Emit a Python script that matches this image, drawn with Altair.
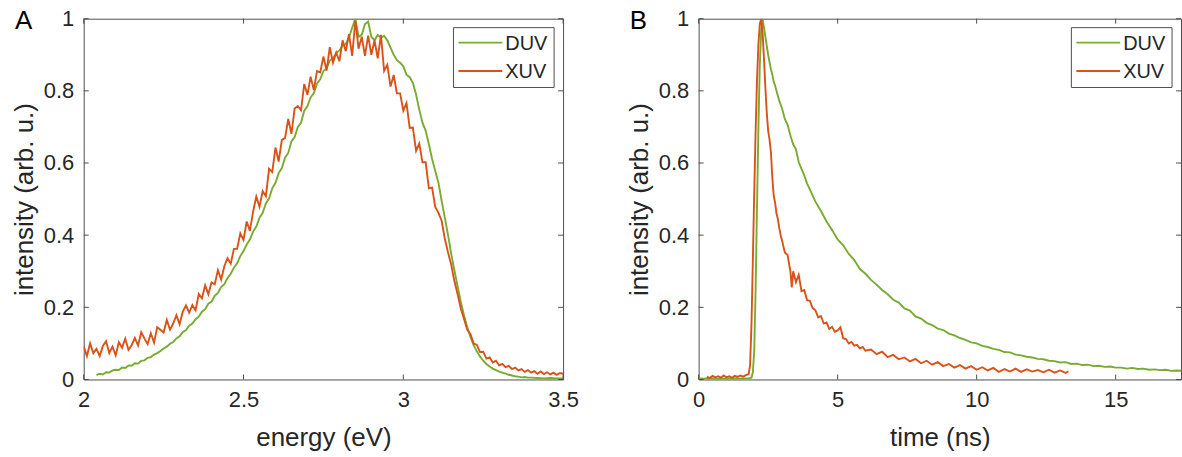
import altair as alt
import pandas as pd

SERIES = ["DUV", "XUV"]
COLORS = ["#77AC30", "#D95319"]
FONT = "Liberation Sans"
TEXT_GREY = "#262626"
FRAME = "#4d4d4d"
Y_TITLE = "intensity (arb. u.)"
PANEL_LETTERS = ["A", "B"]

# ---------------- Panel A : spectra ----------------
a_duv_energy = [2.04, 2.05, 2.06, 2.07, 2.08, 2.09, 2.10, 2.11, 2.12, 2.13, 2.14, 2.15, 2.16, 2.17, 2.18, 2.19,
                2.20, 2.21, 2.22, 2.23, 2.24, 2.25, 2.26, 2.27, 2.28, 2.29, 2.30, 2.31, 2.32, 2.33, 2.34, 2.35,
                2.36, 2.37, 2.38, 2.39, 2.40, 2.41, 2.42, 2.43, 2.44, 2.45, 2.46, 2.47, 2.48, 2.49, 2.50, 2.51,
                2.52, 2.53, 2.54, 2.55, 2.56, 2.57, 2.58, 2.59, 2.60, 2.61, 2.62, 2.63, 2.64, 2.65, 2.66, 2.67,
                2.68, 2.69, 2.70, 2.71, 2.72, 2.73, 2.74, 2.75, 2.76, 2.77, 2.78, 2.79, 2.80, 2.81, 2.82, 2.83,
                2.84, 2.85, 2.86, 2.87, 2.88, 2.89, 2.90, 2.91, 2.92, 2.93, 2.94, 2.95, 2.96, 2.97, 2.98, 2.99,
                3.00, 3.01, 3.02, 3.03, 3.04, 3.05, 3.06, 3.07, 3.08, 3.09, 3.10, 3.11, 3.12, 3.13, 3.14, 3.15,
                3.16, 3.17, 3.18, 3.19, 3.20, 3.21, 3.22, 3.23, 3.24, 3.25, 3.26, 3.27, 3.28, 3.29, 3.30, 3.31,
                3.32, 3.33, 3.34, 3.35, 3.36, 3.37, 3.38, 3.39, 3.40, 3.42, 3.44, 3.46, 3.48, 3.50]
a_duv_int = [0.012, 0.016, 0.014, 0.020, 0.019, 0.025, 0.027, 0.026, 0.033, 0.032, 0.039, 0.038, 0.045, 0.044,
             0.052, 0.053, 0.060, 0.062, 0.069, 0.073, 0.079, 0.086, 0.091, 0.099, 0.104, 0.114, 0.120, 0.131,
             0.137, 0.149, 0.155, 0.167, 0.174, 0.188, 0.195, 0.210, 0.216, 0.232, 0.240, 0.256, 0.264, 0.281,
             0.293, 0.310, 0.322, 0.342, 0.356, 0.374, 0.388, 0.410, 0.424, 0.448, 0.462, 0.488, 0.502, 0.530,
             0.545, 0.572, 0.586, 0.615, 0.628, 0.660, 0.672, 0.700, 0.712, 0.745, 0.758, 0.782, 0.794, 0.820,
             0.832, 0.855, 0.862, 0.884, 0.890, 0.905, 0.912, 0.925, 0.930, 0.948, 0.975, 1.000, 0.950, 0.955,
             0.985, 0.992, 0.950, 0.940, 0.955, 0.948, 0.952, 0.940, 0.920, 0.900, 0.885, 0.878, 0.868, 0.845,
             0.838, 0.822, 0.790, 0.748, 0.712, 0.690, 0.652, 0.612, 0.578, 0.545, 0.495, 0.448, 0.400, 0.348,
             0.302, 0.258, 0.215, 0.178, 0.145, 0.118, 0.095, 0.078, 0.064, 0.052, 0.043, 0.036, 0.030, 0.026,
             0.022, 0.019, 0.016, 0.013, 0.011, 0.009, 0.008, 0.006, 0.007, 0.005, 0.005, 0.004, 0.003, 0.004,
             0.003, 0.003]

a_xuv_energy = [2.00, 2.01, 2.02, 2.03, 2.04, 2.05, 2.06, 2.07, 2.08, 2.09, 2.10, 2.11, 2.12, 2.13, 2.14, 2.15,
                2.16, 2.17, 2.18, 2.19, 2.20, 2.21, 2.22, 2.23, 2.24, 2.25, 2.26, 2.27, 2.28, 2.29, 2.30, 2.31,
                2.32, 2.33, 2.34, 2.35, 2.36, 2.37, 2.38, 2.39, 2.40, 2.41, 2.42, 2.43, 2.44, 2.45, 2.46, 2.47,
                2.48, 2.49, 2.50, 2.51, 2.52, 2.53, 2.54, 2.55, 2.56, 2.57, 2.58, 2.59, 2.60, 2.61, 2.62, 2.63,
                2.64, 2.65, 2.66, 2.67, 2.68, 2.69, 2.70, 2.71, 2.72, 2.73, 2.74, 2.75, 2.76, 2.77, 2.78, 2.79,
                2.80, 2.81, 2.82, 2.83, 2.84, 2.85, 2.86, 2.87, 2.88, 2.89, 2.90, 2.91, 2.92, 2.93, 2.94, 2.95,
                2.96, 2.97, 2.98, 2.99, 3.00, 3.01, 3.02, 3.03, 3.04, 3.05, 3.06, 3.07, 3.08, 3.09, 3.10, 3.11,
                3.12, 3.13, 3.14, 3.15, 3.16, 3.17, 3.18, 3.19, 3.20, 3.21, 3.22, 3.23, 3.24, 3.25, 3.26, 3.27,
                3.28, 3.29, 3.30, 3.31, 3.32, 3.33, 3.34, 3.35, 3.36, 3.37, 3.38, 3.39, 3.40, 3.41, 3.42, 3.43,
                3.44, 3.45, 3.46, 3.47, 3.48, 3.49, 3.50]
a_xuv_int = [0.092, 0.065, 0.100, 0.073, 0.085, 0.065, 0.093, 0.106, 0.073, 0.091, 0.067, 0.103, 0.088, 0.113,
             0.082, 0.095, 0.115, 0.094, 0.131, 0.114, 0.098, 0.128, 0.102, 0.145, 0.138, 0.130, 0.165, 0.138,
             0.155, 0.178, 0.153, 0.188, 0.205, 0.185, 0.206, 0.192, 0.237, 0.225, 0.261, 0.236, 0.269, 0.264,
             0.303, 0.277, 0.314, 0.336, 0.321, 0.362, 0.362, 0.405, 0.387, 0.438, 0.412, 0.465, 0.507, 0.479,
             0.522, 0.508, 0.584, 0.575, 0.643, 0.604, 0.664, 0.669, 0.722, 0.681, 0.751, 0.758, 0.746, 0.819,
             0.789, 0.839, 0.802, 0.855, 0.851, 0.895, 0.856, 0.921, 0.878, 0.906, 0.882, 0.940, 0.910, 0.957,
             0.897, 0.995, 0.917, 0.950, 0.897, 0.953, 0.900, 0.940, 0.890, 0.955, 0.855, 0.872, 0.812, 0.844,
             0.793, 0.793, 0.745, 0.766, 0.697, 0.698, 0.634, 0.654, 0.602, 0.602, 0.530, 0.532, 0.478, 0.462,
             0.440, 0.390, 0.352, 0.318, 0.272, 0.236, 0.196, 0.168, 0.138, 0.126, 0.100, 0.096, 0.076, 0.077,
             0.058, 0.061, 0.047, 0.052, 0.039, 0.043, 0.034, 0.038, 0.029, 0.033, 0.025, 0.029, 0.021, 0.026,
             0.019, 0.023, 0.016, 0.022, 0.015, 0.020, 0.014, 0.019, 0.013, 0.018, 0.016]

# ---------------- Panel B : decays ----------------
b_duv_time = [0.00, 0.20, 0.40, 0.60, 0.80, 1.00, 1.20, 1.40, 1.60, 1.80, 1.90, 1.95, 2.00, 2.05, 2.10, 2.15,
              2.20, 2.25, 2.30, 2.35, 2.40, 2.45, 2.50, 2.55, 2.60, 2.65, 2.70, 2.75, 2.80, 2.90, 3.00, 3.10,
              3.20, 3.30, 3.40, 3.50, 3.60, 3.70, 3.80, 3.90, 4.00, 4.20, 4.40, 4.60, 4.80, 5.00, 5.20, 5.40,
              5.60, 5.80, 6.00, 6.20, 6.40, 6.60, 6.80, 7.00, 7.20, 7.40, 7.60, 7.80, 8.00, 8.20, 8.40, 8.60,
              8.80, 9.00, 9.20, 9.40, 9.60, 9.80, 10.00, 10.20, 10.40, 10.60, 10.80, 11.00, 11.20, 11.40, 11.60,
              11.80, 12.00, 12.20, 12.40, 12.60, 12.80, 13.00, 13.20, 13.40, 13.60, 13.80, 14.00, 14.20, 14.40,
              14.60, 14.80, 15.00, 15.20, 15.40, 15.60, 15.80, 16.00, 16.20, 16.40, 16.60, 16.80, 17.00, 17.20,
              17.35]
b_duv_int = [0.003, 0.002, 0.004, 0.002, 0.003, 0.002, 0.004, 0.002, 0.003, 0.003, 0.005, 0.020, 0.080, 0.250,
             0.480, 0.700, 0.870, 0.970, 1.000, 0.975, 0.950, 0.925, 0.900, 0.880, 0.860, 0.845, 0.825, 0.815,
             0.800, 0.772, 0.752, 0.722, 0.706, 0.676, 0.652, 0.638, 0.602, 0.584, 0.566, 0.543, 0.527, 0.493,
             0.467, 0.438, 0.414, 0.388, 0.372, 0.348, 0.331, 0.306, 0.293, 0.276, 0.263, 0.248, 0.236, 0.221,
             0.213, 0.197, 0.191, 0.175, 0.169, 0.157, 0.151, 0.141, 0.137, 0.127, 0.122, 0.115, 0.110, 0.103,
             0.100, 0.093, 0.090, 0.085, 0.082, 0.076, 0.075, 0.069, 0.067, 0.063, 0.061, 0.057, 0.056, 0.052,
             0.051, 0.047, 0.048, 0.043, 0.044, 0.040, 0.041, 0.037, 0.038, 0.035, 0.036, 0.033, 0.033, 0.030,
             0.032, 0.029, 0.030, 0.027, 0.028, 0.026, 0.027, 0.024, 0.025, 0.024]

b_xuv_time = [0.30, 0.40, 0.50, 0.60, 0.70, 0.80, 0.90, 1.00, 1.10, 1.20, 1.30, 1.40, 1.50, 1.60, 1.70, 1.80,
              1.85, 1.90, 1.95, 2.00, 2.05, 2.10, 2.15, 2.20, 2.25, 2.30, 2.35, 2.40, 2.45, 2.50, 2.55, 2.60,
              2.65, 2.70, 2.75, 2.80, 2.85, 2.90, 2.95, 3.00, 3.10, 3.20, 3.30, 3.35, 3.40, 3.50, 3.60, 3.70,
              3.80, 3.90, 4.00, 4.10, 4.20, 4.30, 4.40, 4.50, 4.60, 4.70, 4.80, 4.90, 5.00, 5.10, 5.20, 5.30,
              5.40, 5.50, 5.60, 5.70, 5.80, 5.90, 6.00, 6.20, 6.40, 6.60, 6.80, 7.00, 7.20, 7.40, 7.60, 7.80,
              8.00, 8.20, 8.40, 8.60, 8.80, 9.00, 9.20, 9.40, 9.60, 9.80, 10.00, 10.20, 10.40, 10.60, 10.80,
              11.00, 11.20, 11.40, 11.60, 11.80, 12.00, 12.20, 12.40, 12.60, 12.80, 13.00, 13.20, 13.30]
b_xuv_int = [0.008, 0.004, 0.010, 0.006, 0.009, 0.005, 0.011, 0.006, 0.009, 0.005, 0.010, 0.007, 0.011, 0.008,
             0.012, 0.015, 0.040, 0.150, 0.330, 0.520, 0.690, 0.830, 0.930, 0.985, 1.000, 0.960, 0.890, 0.810,
             0.740, 0.690, 0.665, 0.630, 0.560, 0.510, 0.490, 0.460, 0.445, 0.420, 0.400, 0.385, 0.352, 0.345,
             0.300, 0.255, 0.300, 0.270, 0.290, 0.245, 0.248, 0.220, 0.218, 0.198, 0.192, 0.172, 0.176, 0.155,
             0.158, 0.140, 0.146, 0.132, 0.136, 0.145, 0.114, 0.112, 0.100, 0.104, 0.094, 0.096, 0.086, 0.090,
             0.080, 0.083, 0.070, 0.077, 0.062, 0.068, 0.056, 0.061, 0.050, 0.057, 0.045, 0.052, 0.041, 0.048,
             0.037, 0.043, 0.033, 0.040, 0.030, 0.037, 0.027, 0.034, 0.025, 0.032, 0.021, 0.029, 0.022, 0.030,
             0.021, 0.028, 0.022, 0.026, 0.020, 0.027, 0.019, 0.025, 0.018, 0.023]

a_x_ticks = [2, 2.5, 3, 3.5]
b_x_ticks = [0, 5, 10, 15]
y_ticks = [0, 0.2, 0.4, 0.6, 0.8, 1]


def long_df(x1, y1, x2, y2):
    d1 = pd.DataFrame({"x": x1[:len(y1)], "y": y1[:len(x1)], "series": SERIES[0]})
    d2 = pd.DataFrame({"x": x2[:len(y2)], "y": y2[:len(x2)], "series": SERIES[1]})
    return pd.concat([d1, d2], ignore_index=True)


def panel(df, x_domain, x_ticks, x_title, x_fmt, w, h, letter):
    xs = alt.Scale(domain=x_domain, nice=False, zero=False)
    ys = alt.Scale(domain=[0, 1], nice=False, zero=False)
    X = alt.X("x:Q", scale=xs, title=x_title,
              axis=alt.Axis(values=x_ticks, format=x_fmt, labelOverlap=False, labelFlush=False))
    Y = alt.Y("y:Q", scale=ys, title=Y_TITLE,
              axis=alt.Axis(values=y_ticks, format=".1~f", labelOverlap=False, labelFlush=False))
    color = alt.Color("series:N", scale=alt.Scale(domain=SERIES, range=COLORS), legend=None)

    lines = alt.Chart(df).mark_line(strokeWidth=1.9, clip=True).encode(x=X, y=Y, color=color)

    xt = pd.DataFrame({"x": x_ticks})
    yt = pd.DataFrame({"y": y_ticks})
    tick_style = dict(color=FRAME, strokeWidth=1)
    t_bottom = alt.Chart(xt).mark_rule(**tick_style).encode(x=X, y=alt.value(h), y2=alt.value(h - 5))
    t_top = alt.Chart(xt).mark_rule(**tick_style).encode(x=X, y=alt.value(0), y2=alt.value(5))
    t_left = alt.Chart(yt).mark_rule(**tick_style).encode(y=Y, x=alt.value(0), x2=alt.value(5))
    t_right = alt.Chart(yt).mark_rule(**tick_style).encode(y=Y, x=alt.value(w - 5), x2=alt.value(w))

    # legend box (top right, inside the axes)
    box = alt.Chart(pd.DataFrame({"series": SERIES[:1]})).mark_rect(
        fill="white", stroke=FRAME, strokeWidth=1).encode(
        x=alt.value(w - 110), x2=alt.value(w - 9), y=alt.value(9), y2=alt.value(69))
    legend_layers = [box]
    for i, s in enumerate(SERIES):
        ly = 24 + 28.5 * i
        sdf = pd.DataFrame({"series": [s]})
        legend_layers.append(alt.Chart(sdf).mark_rule(strokeWidth=1.9).encode(
            x=alt.value(w - 105), x2=alt.value(w - 61), y=alt.value(ly), color=color))
        legend_layers.append(alt.Chart(sdf).mark_text(
            align="left", baseline="middle", font=FONT, fontSize=20, color=TEXT_GREY).encode(
            x=alt.value(w - 58), y=alt.value(ly + 1), text="series:N"))

    lab = alt.Chart(pd.DataFrame({"letter": [letter]})).mark_text(
        align="left", baseline="alphabetic", font=FONT, fontSize=26, color="black").encode(
        x=alt.value(-69), y=alt.value(10), text="letter:N")

    return alt.layer(lines, t_bottom, t_top, t_left, t_right, *legend_layers, lab).properties(
        width=w, height=h)


df_a = long_df(a_duv_energy, a_duv_int, a_xuv_energy, a_xuv_int)
df_b = long_df(b_duv_time, b_duv_int, b_xuv_time, b_xuv_int)

pa = panel(df_a, [2, 3.5], a_x_ticks, "energy (eV)", ".1~f", 481, 362, PANEL_LETTERS[0])
pb = panel(df_b, [0, 17.35], b_x_ticks, "time (ns)", "d", 484, 362, PANEL_LETTERS[1])

chart = alt.hconcat(pa, pb, spacing=46).properties(
    padding={"left": 10, "top": 6, "right": 0, "bottom": 0},
    background="white",
).configure_view(
    stroke=FRAME, strokeWidth=1
).configure_axis(
    labelFont=FONT, labelFontSize=22, labelColor=TEXT_GREY,
    titleFont=FONT, titleFontSize=26, titleFontWeight="normal", titleColor=TEXT_GREY,
    ticks=False, tickSize=0, domain=False, grid=False, labelPadding=10,
).configure_axisX(
    titlePadding=14
).configure_axisY(
    titlePadding=6
)

chart.save("out.html", embed_options={"renderer": "svg", "actions": False})
